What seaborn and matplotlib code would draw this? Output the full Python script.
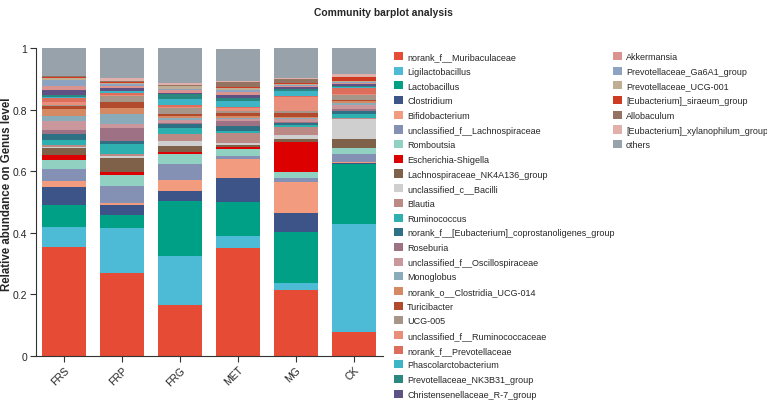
import matplotlib
matplotlib.use("Agg")
import matplotlib.pyplot as plt
from matplotlib.patches import Patch
import seaborn as sns
import numpy as np

groups = ["FRS", "FRP", "FRG", "MET", "MG", "CK"]

taxa = [
    "norank_f__Muribaculaceae", "Ligilactobacillus", "Lactobacillus", "Clostridium",
    "Bifidobacterium", "unclassified_f__Lachnospiraceae", "Romboutsia",
    "Escherichia-Shigella", "Lachnospiraceae_NK4A136_group", "unclassified_c__Bacilli",
    "Blautia", "Ruminococcus", "norank_f__[Eubacterium]_coprostanoligenes_group",
    "Roseburia", "unclassified_f__Oscillospiraceae", "Monoglobus",
    "norank_o__Clostridia_UCG-014", "Turicibacter", "UCG-005",
    "unclassified_f__Ruminococcaceae", "norank_f__Prevotellaceae",
    "Phascolarctobacterium", "Prevotellaceae_NK3B31_group",
    "Christensenellaceae_R-7_group", "Akkermansia", "Prevotellaceae_Ga6A1_group",
    "Prevotellaceae_UCG-001", "[Eubacterium]_siraeum_group", "Allobaculum",
    "[Eubacterium]_xylanophilum_group", "others",
]

colors = [
    "#E64B35", "#4DBBD5", "#00A087", "#3C5488", "#F39B7F", "#8491B4", "#91D1C2",
    "#DC0000", "#7E6148", "#CFCFCF", "#BC8A84", "#2FB0B0", "#2E7184", "#9E7185",
    "#C9979C", "#8AACBA", "#D58A64", "#B24A2D", "#A69689", "#E88E7B", "#DD6E5C",
    "#3DB5C6", "#2A8880", "#5F5183", "#DA9490", "#8CA3C2", "#BFAE93", "#CF3B20",
    "#957362", "#E2B0AA", "#98A2AA",
]

# relative abundance per taxon, in order of groups (FRS, FRP, FRG, MET, MG, CK)
muribaculaceae      = [0.355, 0.270, 0.167, 0.351, 0.213, 0.077]
ligilactobacillus   = [0.063, 0.145, 0.157, 0.040, 0.023, 0.350]
lactobacillus       = [0.073, 0.044, 0.178, 0.108, 0.167, 0.198]
clostridium         = [0.059, 0.032, 0.034, 0.080, 0.060, 0.002]
bifidobacterium     = [0.019, 0.007, 0.035, 0.061, 0.101, 0.002]
uncl_lachno         = [0.038, 0.053, 0.051, 0.010, 0.014, 0.027]
romboutsia          = [0.029, 0.036, 0.034, 0.022, 0.019, 0.018]
escherichia         = [0.017, 0.009, 0.005, 0.008, 0.098, 0.002]
nk4a136             = [0.022, 0.047, 0.021, 0.005, 0.011, 0.029]
uncl_bacilli        = [0.005, 0.006, 0.016, 0.005, 0.012, 0.065]
blautia             = [0.005, 0.008, 0.022, 0.033, 0.027, 0.003]
ruminococcus        = [0.016, 0.030, 0.021, 0.006, 0.004, 0.014]
coprostanoligenes   = [0.020, 0.011, 0.011, 0.019, 0.006, 0.009]
roseburia           = [0.013, 0.041, 0.005, 0.014, 0.006, 0.007]
uncl_oscillo        = [0.028, 0.013, 0.008, 0.007, 0.008, 0.011]
monoglobus          = [0.018, 0.035, 0.007, 0.004, 0.003, 0.006]
clostridia_ucg014   = [0.022, 0.019, 0.007, 0.005, 0.005, 0.008]
turicibacter        = [0.010, 0.019, 0.008, 0.011, 0.012, 0.003]
ucg005              = [0.004, 0.019, 0.017, 0.005, 0.005, 0.016]
uncl_rumino         = [0.008, 0.005, 0.004, 0.011, 0.046, 0.004]
prevotellaceae      = [0.013, 0.004, 0.007, 0.005, 0.004, 0.018]
phascolarcto        = [0.003, 0.006, 0.018, 0.018, 0.015, 0.004]
nk3b31              = [0.007, 0.003, 0.019, 0.010, 0.007, 0.005]
christensenellaceae = [0.018, 0.009, 0.003, 0.008, 0.006, 0.005]
akkermansia         = [0.011, 0.007, 0.010, 0.012, 0.004, 0.004]
ga6a1               = [0.020, 0.005, 0.003, 0.006, 0.003, 0.003]
prevo_ucg001        = [0.005, 0.004, 0.007, 0.006, 0.004, 0.003]
siraeum             = [0.005, 0.004, 0.002, 0.003, 0.002, 0.012]
allobaculum         = [0.002, 0.002, 0.002, 0.016, 0.014, 0.002]
xylanophilum        = [0.002, 0.008, 0.006, 0.003, 0.002, 0.008]
others              = [0.090, 0.099, 0.115, 0.105, 0.099, 0.084]

series = [
    muribaculaceae, ligilactobacillus, lactobacillus, clostridium, bifidobacterium,
    uncl_lachno, romboutsia, escherichia, nk4a136, uncl_bacilli, blautia,
    ruminococcus, coprostanoligenes, roseburia, uncl_oscillo, monoglobus,
    clostridia_ucg014, turicibacter, ucg005, uncl_rumino, prevotellaceae,
    phascolarcto, nk3b31, christensenellaceae, akkermansia, ga6a1, prevo_ucg001,
    siraeum, allobaculum, xylanophilum, others,
]

sns.set_style("ticks")
plt.rcParams["font.family"] = ["Liberation Sans", "DejaVu Sans"]

fig = plt.figure(figsize=(7.67, 4.02), dpi=100)
ax_left, ax_w = 35.5, 347.0
ax = fig.add_axes([ax_left / 767, 45 / 402, ax_w / 767, 308 / 402])

bottom = np.zeros(len(groups))
for name, vals, col in zip(taxa, series, colors):
    vals = np.asarray(vals, dtype=float)
    sns.barplot(x=groups, y=vals, bottom=bottom, color=col, saturation=1,
                width=0.76, linewidth=0, errorbar=None, ax=ax)
    bottom = bottom + vals

ax.set_xlim(-0.5, 5.5)
ax.set_ylim(0, 1)
ax.set_yticks([0, 0.2, 0.4, 0.6, 0.8, 1.0])
ax.set_yticklabels(["0", "0.2", "0.4", "0.6", "0.8", "1"], fontsize=7.5)
ax.set_xticks(range(len(groups)))
ax.set_xticklabels(groups, fontsize=7.5, rotation=45, ha="right", rotation_mode="anchor")
ax.tick_params(axis="both", length=4, width=0.8, color="#333333", pad=2)
ax.set_ylabel("Relative abundance on Genus level", fontsize=8.3, fontweight="bold")
ax.yaxis.set_label_coords((13 - ax_left) / ax_w, 0.53)
ax.set_xlabel("")
sns.despine(ax=ax, top=True, right=True)
for s in ["left", "bottom"]:
    ax.spines[s].set_color("#333333")
    ax.spines[s].set_linewidth(0.8)

fig.suptitle("Community barplot analysis", fontsize=7.4, fontweight="bold",
             y=1 - 13 / 402, va="center")

handles = [Patch(facecolor=c, edgecolor="none") for c in colors]
leg_kw = dict(frameon=False, fontsize=6.5, handlelength=1.0, handleheight=1.0,
              handletextpad=0.45, labelspacing=0.615, borderpad=0, borderaxespad=0,
              loc="upper left")
leg1 = fig.legend(handles[:24], taxa[:24], bbox_to_anchor=(394 / 767, 1 - 53 / 402), **leg_kw)
leg2 = fig.legend(handles[24:], taxa[24:], bbox_to_anchor=(613 / 767, 1 - 53 / 402), **leg_kw)

fig.savefig("out.png", dpi=100)
